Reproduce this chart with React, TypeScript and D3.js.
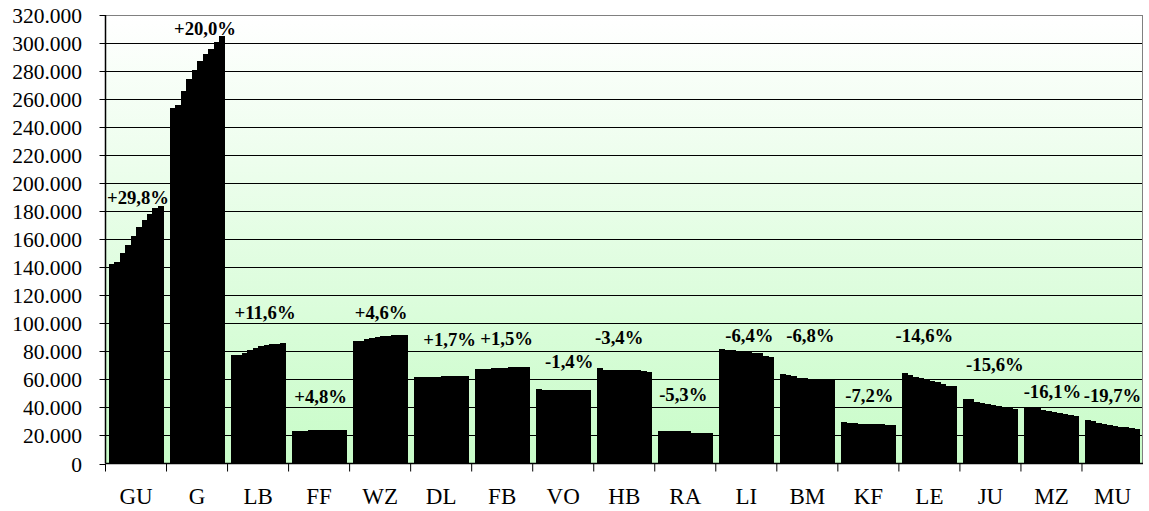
import React from "react";
import * as d3 from "d3";

// values in thousands, 10 yearly bars per region
const regions = ["GU", "G", "LB", "FF", "WZ", "DL", "FB", "VO", "HB", "RA", "LI", "BM", "KF", "LE", "JU", "MZ", "MU"];

const values = [
  [142, 143.5, 150, 156, 162, 168.5, 174, 178, 182, 184],
  [254, 256, 266, 274, 281, 287, 292, 296, 301, 305],
  [77.1, 77.6, 79.0, 81.0, 82.6, 83.6, 84.4, 85.0, 85.6, 86.0],
  [23.1, 23.2, 23.3, 23.6, 23.9, 24.0, 24.1, 24.1, 24.2, 24.2],
  [87.6, 87.7, 88.5, 89.5, 90.2, 90.7, 91.1, 91.5, 91.6, 91.6],
  [61.6, 61.5, 61.5, 61.6, 61.7, 62.2, 62.4, 62.5, 62.6, 62.6],
  [67.6, 67.6, 67.7, 67.8, 68.1, 68.4, 68.6, 68.6, 68.6, 68.6],
  [53.3, 52.6, 52.4, 52.4, 52.3, 52.3, 52.4, 52.5, 52.5, 52.6],
  [67.9, 67.0, 66.9, 66.9, 66.8, 66.8, 66.7, 66.6, 65.7, 65.6],
  [23.1, 23.1, 23.1, 23.0, 23.0, 22.9, 22.0, 21.9, 21.9, 21.9],
  [81.4, 81.0, 80.7, 80.0, 79.8, 79.4, 78.8, 78.5, 76.8, 76.2],
  [63.8, 62.9, 62.2, 61.2, 60.7, 60.3, 60.1, 59.9, 59.7, 59.5],
  [29.3, 29.2, 29.0, 28.3, 28.2, 28.1, 28.0, 27.9, 27.8, 27.2],
  [64.8, 63.3, 62.0, 60.8, 59.8, 58.9, 57.8, 56.9, 55.6, 55.3],
  [46.2, 45.7, 44.0, 43.2, 42.4, 41.6, 40.9, 40.3, 39.7, 39.0],
  [40.5, 40.2, 39.3, 38.5, 37.6, 36.8, 36.1, 35.6, 34.6, 34.0],
  [30.7, 30.3, 29.2, 28.3, 27.5, 26.8, 26.2, 25.7, 25.2, 24.7],
];

const changes = ["+29,8%", "+20,0%", "+11,6%", "+4,8%", "+4,6%", "+1,7%", "+1,5%", "-1,4%", "-3,4%", "-5,3%", "-6,4%", "-6,8%", "-7,2%", "-14,6%", "-15,6%", "-16,1%", "-19,7%"];

const yTicks = [0, 20, 40, 60, 80, 100, 120, 140, 160, 180, 200, 220, 240, 260, 280, 300, 320];

// label placement relative to group centre / group top, in px
const labelNudge = [
  [2, -8], [8, -8], [7, -30], [1.5, -33], [1, -23], [8.5, -36], [4.5, -29], [6, -27], [-5, -31],
  [-2, -37], [3, -14], [3, -39], [1, -27], [-5, -37], [4.5, -34], [1, -15], [0, -25],
];

const W = 1149;
const H = 511;
const left = 105.5;
const right = 1143;
const top = 15;
const bottom = 463.5;

const de = d3.formatLocale({ decimal: ",", thousands: ".", grouping: [3], currency: ["", ""] });
const fmt = de.format(",");

export default function App() {
  const x = d3.scaleBand().domain(regions).range([left, right]).paddingInner(0.1).paddingOuter(0.05);
  const inner = d3.scaleBand<number>().domain(d3.range(10)).range([0, x.bandwidth()]);
  const y = d3.scaleLinear().domain([0, 320]).range([bottom, top]);
  const step = x.step();

  return (
    <div style={{ position: "absolute", left: 0, top: 0 }}>
      <svg width={W} height={H} style={{ display: "block" }}>
        <defs>
          <linearGradient id="bg" x1="0" y1="0" x2="0" y2="1">
            <stop offset="0%" stopColor="#ffffff" />
            <stop offset="100%" stopColor="#c8fcc8" />
          </linearGradient>
        </defs>
        <rect x={left} y={top} width={right - left} height={bottom - top} fill="url(#bg)" />

        {/* gridlines */}
        {yTicks.filter((t) => t > 0 && t < 320).map((t) => (
          <line key={t} x1={left} x2={right} y1={Math.round(y(t)) + 0.5} y2={Math.round(y(t)) + 0.5} stroke="#000" />
        ))}
        {/* plot border top/right */}
        <line x1={left} x2={right} y1={top + 0.5} y2={top + 0.5} stroke="#808080" />
        <line x1={right - 0.5} x2={right - 0.5} y1={top} y2={bottom} stroke="#808080" />

        {/* bars */}
        {regions.map((r, i) => (
          <g key={r} transform={`translate(${x(r)},0)`}>
            {values[i].map((v, j) => (
              <rect
                key={j}
                x={inner(j)}
                y={y(v)}
                width={inner.bandwidth() + 0.3}
                height={bottom - y(v)}
                fill="#000"
                shapeRendering="crispEdges"
              />
            ))}
          </g>
        ))}

        {/* y axis */}
        <line x1={left} x2={left} y1={top} y2={bottom} stroke="#000" strokeWidth={1.5} />
        {yTicks.map((t) => (
          <g key={t} transform={`translate(0,${Math.round(y(t)) + 0.5})`}>
            <line x1={left - 6} x2={left} stroke="#000" />
            <text
              x={82}
              textAnchor="end"
              dominantBaseline="central"
              fontFamily="'Liberation Serif', 'Times New Roman', serif"
              fontSize={21.5}
            >
              {fmt(t * 1000)}
            </text>
          </g>
        ))}

        {/* x axis */}
        <line x1={left} x2={right} y1={bottom} y2={bottom} stroke="#000" strokeWidth={1.5} />
        {d3.range(regions.length).map((i) => (
          <line key={i} x1={left + i * step} x2={left + i * step} y1={bottom} y2={bottom + 8} stroke="#000" />
        ))}
        {regions.map((r) => (
          <text
            key={r}
            x={(x(r) as number) + x.bandwidth() / 2}
            y={504}
            textAnchor="middle"
            fontFamily="'Liberation Serif', 'Times New Roman', serif"
            fontSize={23}
          >
            {r}
          </text>
        ))}

        {/* change labels */}
        {regions.map((r, i) => (
          <text
            key={r}
            x={(x(r) as number) + x.bandwidth() / 2 + labelNudge[i][0]}
            y={y(d3.max(values[i]) as number) + labelNudge[i][1]}
            textAnchor="middle"
            dominantBaseline="central"
            fontFamily="'Liberation Serif', 'Times New Roman', serif"
            fontWeight="bold"
            fontSize={18.7}
          >
            {changes[i]}
          </text>
        ))}
      </svg>
    </div>
  );
}
